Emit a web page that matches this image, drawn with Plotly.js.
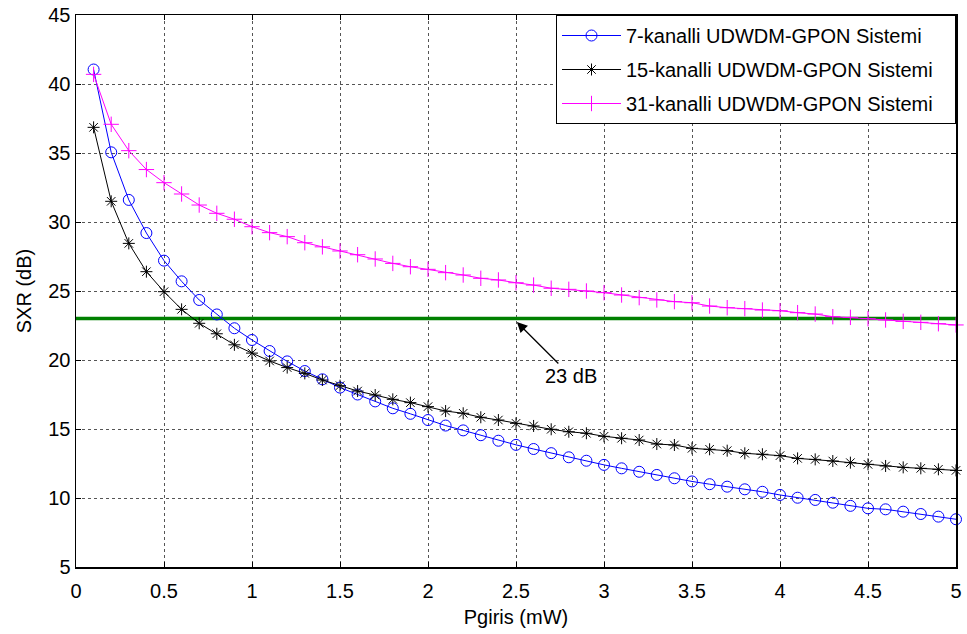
<!DOCTYPE html>
<html>
<head>
<meta charset="utf-8">
<script src="https://cdn.plot.ly/plotly-3.0.1.min.js"></script>
<style>
html,body{margin:0;padding:0;background:#fff;}
#chart{width:967px;height:634px;}
</style>
</head>
<body>
<div id="chart"></div>
<script>
const pgiris = [0.1,0.2,0.3,0.4,0.5,0.6,0.7,0.8,0.9,1.0,
  1.1,1.2,1.3,1.4,1.5,1.6,1.7,1.8,1.9,2.0,
  2.1,2.2,2.3,2.4,2.5,2.6,2.7,2.8,2.9,3.0,
  3.1,3.2,3.3,3.4,3.5,3.6,3.7,3.8,3.9,4.0,
  4.1,4.2,4.3,4.4,4.5,4.6,4.7,4.8,4.9,5.0];

const sxr7 = [41.05,35.05,31.6,29.2,27.2,25.7,24.35,23.3,22.3,21.45,
  20.65,19.9,19.2,18.6,18.0,17.5,17.0,16.5,16.1,15.65,
  15.25,14.9,14.55,14.15,13.85,13.55,13.25,12.95,12.7,12.4,
  12.15,11.9,11.67,11.43,11.2,11.0,10.82,10.63,10.45,10.22,
  10.02,9.86,9.66,9.43,9.25,9.18,9.01,8.84,8.65,8.46];

const sxr15 = [36.86,31.5,28.45,26.4,24.95,23.67,22.66,21.9,21.1,20.5,
  19.93,19.45,19.03,18.55,18.14,17.75,17.46,17.15,16.91,16.62,
  16.3,16.14,15.85,15.65,15.41,15.22,14.98,14.8,14.69,14.47,
  14.33,14.2,13.91,13.84,13.6,13.53,13.43,13.24,13.17,13.07,
  12.87,12.8,12.68,12.56,12.44,12.32,12.22,12.15,12.08,12.0];

const sxr31 = [40.7,37.08,35.17,33.8,32.85,32.03,31.23,30.63,30.2,29.66,
  29.23,28.94,28.5,28.2,27.9,27.63,27.32,27.0,26.76,26.57,
  26.33,26.16,25.92,25.8,25.6,25.43,25.2,25.12,25.0,24.88,
  24.71,24.52,24.35,24.23,24.15,23.91,23.79,23.72,23.62,23.57,
  23.43,23.33,23.14,23.09,22.99,22.9,22.8,22.73,22.63,22.54];

const thresholdX = [0, 5];
const thresholdY = [23, 23];
const thresholdLabel = '23 dB';

const seriesNames = ['7-kanalli UDWDM-GPON Sistemi','15-kanalli UDWDM-GPON Sistemi','31-kanalli UDWDM-GPON Sistemi'];
const xTicks = [0,0.5,1,1.5,2,2.5,3,3.5,4,4.5,5];
const yTicks = [5,10,15,20,25,30,35,40,45];

const FONT = 'Liberation Sans, Arial, Helvetica, sans-serif';
const PAD = '\u00A0\u00A0\u00A0';

const traces = [
  {x: thresholdX, y: thresholdY, mode: 'lines', line: {color: '#008000', width: 3.5},
   showlegend: false, hoverinfo: 'skip'},
  {x: pgiris, y: sxr7, name: seriesNames[0] + PAD, legendgroup: 'g7', mode: 'lines+markers', cliponaxis: false,
   line: {color: '#0000FF', width: 1},
   marker: {symbol: 'circle-open', size: 11, color: '#0000FF', line: {width: 1, color: '#0000FF'}}},
  {x: pgiris, y: sxr15, name: seriesNames[1] + PAD, legendgroup: 'g15', mode: 'lines+markers', cliponaxis: false,
   line: {color: '#000000', width: 1},
   marker: {symbol: 'asterisk-open', size: 10, color: '#000000', line: {width: 1, color: '#000000'}}},
  {x: pgiris, y: sxr31, name: seriesNames[2] + PAD, legendgroup: 'g31', mode: 'lines+markers', cliponaxis: false,
   line: {color: '#FF00FF', width: 1},
   marker: {symbol: 'cross-thin-open', size: 11, color: '#FF00FF', line: {width: 1, color: '#FF00FF'}}}
];

const axisCommon = {
  showline: true, linecolor: '#000', linewidth: 1.5, mirror: 'ticks',
  ticks: 'inside', ticklen: 5, tickcolor: '#000', tickwidth: 1,
  showgrid: true, gridcolor: '#555', gridwidth: 1, griddash: 'dot',
  zeroline: false, tickfont: {family: FONT, size: 20, color: '#000'}
};

const layout = {
  width: 967, height: 634,
  margin: {l: 76, r: 11, t: 15, b: 67},
  paper_bgcolor: '#fff', plot_bgcolor: '#fff',
  font: {family: FONT, color: '#000'},
  xaxis: Object.assign({}, axisCommon, {
    range: [0, 5], tickmode: 'array', tickvals: xTicks, ticktext: xTicks.map(String),
    ticklabelstandoff: 5,
    title: {text: 'Pgiris (mW)', font: {family: FONT, size: 20, color: '#000'}, standoff: 9}
  }),
  yaxis: Object.assign({}, axisCommon, {
    range: [5, 45], tickmode: 'array', tickvals: yTicks, ticktext: yTicks.map(String),
    title: {text: 'SXR (dB)', font: {family: FONT, size: 20, color: '#000'}, standoff: 11}
  }),
  legend: {
    x: 1, y: 1, xanchor: 'right', yanchor: 'top',
    bgcolor: '#fff', bordercolor: '#000', borderwidth: 1,
    itemwidth: 59, tracegroupgap: 5,
    font: {family: FONT, size: 20, color: '#000'}
  },
  annotations: [{
    x: 2.505, y: 22.75, xref: 'x', yref: 'y',
    text: thresholdLabel, showarrow: true,
    ax: 54, ay: 54, arrowhead: 2, arrowsize: 1.6, arrowwidth: 1.3, arrowcolor: '#000',
    font: {family: FONT, size: 20, color: '#000'}
  }]
};

Plotly.newPlot('chart', traces, layout, {displayModeBar: false, staticPlot: true});
</script>
</body>
</html>
